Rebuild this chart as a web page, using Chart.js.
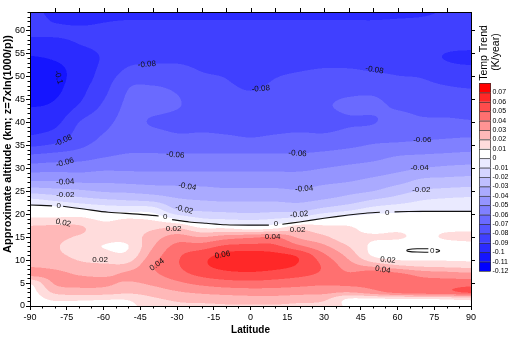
<!DOCTYPE html>
<html>
<head>
<meta charset="utf-8">
<script src="https://cdn.jsdelivr.net/npm/chart.js@4.4.1/dist/chart.umd.min.js"></script>
<style>
  html, body { margin: 0; padding: 0; background: #fff; }
  #wrap { width: 524px; height: 339px; }
</style>
</head>
<body>
<div id="wrap"><canvas id="chart" width="524" height="339"></canvas></div>
<script>
// Temperature trend (K/year) by latitude and altitude

const lats = [-90, -80, -70, -60, -50, -40, -30, -20, -10, 0, 10, 20, 30, 40, 50, 60, 70, 80, 90];
const alts = [0, 1.5, 3, 5, 7, 9, 11, 13, 15, 17, 19, 21, 23, 25, 27, 30, 33, 36, 40, 44, 48, 51, 54, 57, 60, 62, 64];

// one row per altitude (bottom to top), one value per latitude
const trend = [
  [0.005, 0.006, 0.006, 0.007, 0.008, 0.014, 0.018, 0.018, 0.019, 0.019, 0.019, 0.018, 0.017, 0.008, 0.006, 0.005, 0.006, 0.007, 0.007],
  [0.005, 0.012, 0.012, 0.011, 0.011, 0.018, 0.022, 0.024, 0.025, 0.026, 0.026, 0.024, 0.022, 0.009, 0.009, 0.009, 0.009, 0.011, 0.013],
  [0.006, 0.022, 0.025, 0.025, 0.022, 0.025, 0.029, 0.032, 0.034, 0.035, 0.035, 0.034, 0.033, 0.030, 0.036, 0.043, 0.046, 0.047, 0.052],
  [0.011, 0.031, 0.033, 0.032, 0.029, 0.032, 0.038, 0.043, 0.046, 0.047, 0.046, 0.044, 0.042, 0.043, 0.044, 0.046, 0.044, 0.044, 0.045],
  [0.034, 0.033, 0.029, 0.028, 0.032, 0.038, 0.046, 0.053, 0.057, 0.058, 0.056, 0.053, 0.048, 0.041, 0.046, 0.042, 0.036, 0.034, 0.032],
  [0.028, 0.026, 0.022, 0.021, 0.022, 0.039, 0.049, 0.058, 0.064, 0.066, 0.064, 0.059, 0.048, 0.034, 0.025, 0.019, 0.016, 0.015, 0.014],
  [0.026, 0.022, 0.018, 0.014, 0.013, 0.034, 0.048, 0.056, 0.063, 0.065, 0.063, 0.058, 0.042, 0.027, 0.009, 0.004, 0.005, 0.006, 0.006],
  [0.025, 0.021, 0.016, 0.0097, 0.0097, 0.029, 0.043, 0.045, 0.052, 0.053, 0.052, 0.042, 0.032, 0.020, 0.008, 0.005, 0.004, 0.006, 0.007],
  [0.024, 0.022, 0.019, 0.014, 0.014, 0.025, 0.034, 0.030, 0.035, 0.038, 0.040, 0.028, 0.022, 0.013, 0.011, 0.011, 0.008, 0.011, 0.012],
  [0.022, 0.023, 0.022, 0.013, 0.014, 0.018, 0.020, 0.010, 0.009, 0.005, 0.008, 0.017, 0.013, 0.011, 0.007, 0.008, 0.007, 0.008, 0.008],
  [0.011, 0.011, 0.012, 0.008, 0.010, 0.008, -0.001, -0.009, -0.011, -0.012, -0.010, -0.006, 0.001, 0.004, 0.005, 0.004, 0.004, 0.004, 0.004],
  [0.006, 0.005, 0.001, -0.003, -0.004, -0.005, -0.020, -0.022, -0.023, -0.024, -0.023, -0.023, -0.017, -0.012, -0.006, -0.003, -0.002, -0.001, -0.001],
  [-0.007, -0.011, -0.015, -0.018, -0.020, -0.022, -0.028, -0.030, -0.031, -0.031, -0.031, -0.032, -0.029, -0.025, -0.019, -0.015, -0.010, -0.008, -0.007],
  [-0.024, -0.026, -0.028, -0.031, -0.032, -0.034, -0.036, -0.037, -0.038, -0.038, -0.038, -0.039, -0.036, -0.033, -0.030, -0.024, -0.019, -0.017, -0.016],
  [-0.039, -0.039, -0.041, -0.041, -0.042, -0.043, -0.043, -0.043, -0.044, -0.044, -0.044, -0.044, -0.042, -0.040, -0.037, -0.033, -0.027, -0.026, -0.025],
  [-0.055, -0.054, -0.054, -0.052, -0.052, -0.052, -0.052, -0.052, -0.052, -0.052, -0.052, -0.052, -0.050, -0.048, -0.046, -0.043, -0.040, -0.038, -0.037],
  [-0.070, -0.068, -0.066, -0.062, -0.0595, -0.0595, -0.0595, -0.0595, -0.0595, -0.0595, -0.0595, -0.0595, -0.058, -0.056, -0.054, -0.051, -0.050, -0.049, -0.048],
  [-0.087, -0.083, -0.075, -0.068, -0.065, -0.064, -0.067, -0.067, -0.068, -0.069, -0.068, -0.067, -0.067, -0.065, -0.062, -0.061, -0.060, -0.059, -0.058],
  [-0.095, -0.093, -0.080, -0.073, -0.067, -0.071, -0.073, -0.073, -0.073, -0.073, -0.073, -0.073, -0.073, -0.071, -0.0705, -0.066, -0.068, -0.068, -0.069],
  [-0.101, -0.099, -0.090, -0.079, -0.068, -0.066, -0.069, -0.075, -0.076, -0.077, -0.076, -0.076, -0.0715, -0.068, -0.068, -0.072, -0.074, -0.075, -0.075],
  [-0.105, -0.103, -0.094, -0.084, -0.071, -0.070, -0.072, -0.077, -0.079, -0.081, -0.079, -0.078, -0.076, -0.075, -0.074, -0.077, -0.078, -0.080, -0.081],
  [-0.105, -0.103, -0.096, -0.087, -0.078, -0.077, -0.077, -0.080, -0.081, -0.083, -0.081, -0.080, -0.079, -0.079, -0.080, -0.081, -0.082, -0.086, -0.087],
  [-0.101, -0.099, -0.095, -0.089, -0.083, -0.082, -0.082, -0.083, -0.084, -0.084, -0.084, -0.084, -0.083, -0.083, -0.083, -0.084, -0.087, -0.0905, -0.092],
  [-0.093, -0.093, -0.090, -0.088, -0.086, -0.086, -0.086, -0.086, -0.086, -0.086, -0.086, -0.086, -0.086, -0.086, -0.086, -0.087, -0.087, -0.088, -0.088],
  [-0.088, -0.088, -0.0885, -0.088, -0.087, -0.087, -0.087, -0.087, -0.087, -0.087, -0.087, -0.087, -0.087, -0.087, -0.088, -0.088, -0.088, -0.087, -0.087],
  [-0.087, -0.0905, -0.092, -0.0905, -0.0895, -0.0895, -0.0895, -0.0895, -0.0895, -0.0895, -0.0895, -0.0895, -0.0895, -0.0895, -0.0897, -0.0893, -0.089, -0.088, -0.088],
  [-0.088, -0.092, -0.095, -0.094, -0.094, -0.094, -0.094, -0.094, -0.094, -0.094, -0.094, -0.094, -0.094, -0.094, -0.093, -0.092, -0.091, -0.0895, -0.089]
];

// contour levels and fill colours (from -0.12 up to 0.08)
const levelEdges = [-0.12, -0.11, -0.10, -0.09, -0.08, -0.07, -0.06, -0.05, -0.04, -0.03, -0.02, -0.01,
                    0, 0.01, 0.02, 0.03, 0.04, 0.05, 0.06, 0.07, 0.08];
const levelColors = ['#0000ff', '#1515ff', '#2b2bff', '#4040ff', '#5555ff', '#6a6aff', '#8080ff', '#9595ff',
                     '#aaaaff', '#bfbfff', '#d5d5ff', '#eaeaff', '#ffffff', '#ffdcdc', '#ffb8b8', '#ff9494',
                     '#ff7070', '#ff4c4c', '#ff2828', '#ff0000'];
const colorbarTicks = ['0.07', '0.06', '0.05', '0.04', '0.03', '0.02', '0.01', '0', '-0.01', '-0.02', '-0.03',
                       '-0.04', '-0.05', '-0.06', '-0.07', '-0.08', '-0.09', '-0.1', '-0.11', '-0.12'];

// zero contour (null = gap for a label)
const zeroLat = [-90, -81, null, -76.5, -68, -58, -46, -37.5, null, -32, -25, -18, -10, 0, 7.5, null,
                 13, 20, 30, 40, 47, 52.8, null, 58.8, 70, 80, 90];
const zeroAlt = [22.0, 21.8, null, 21.7, 21.1, 20.4, 20.0, 19.6, null, 18.8, 18.3, 18.0, 17.7, 17.6, 17.6, null,
                 17.8, 18.3, 19.1, 19.8, 20.2, 20.4, null, 20.5, 20.6, 20.6, 20.6];
const loopLat = [72.6, 68, 64.5, 63.8, 64.5, 68, 72.6, null, 75.6, 76.8, 77.2, 76.6, 75.6];
const loopAlt = [12.45, 12.45, 12.3, 12.1, 11.9, 11.75, 11.7, null, 12.35, 12.2, 12.0, 11.8, 11.7];

// contour labels
const labelText = ['-0.1', '-0.08', '-0.08', '-0.08', '-0.08', '-0.06', '-0.06', '-0.06', '-0.06',
                   '-0.04', '-0.04', '-0.04', '-0.04', '-0.02', '-0.02', '-0.02', '-0.02',
                   '0', '0', '0', '0', '0', '0.02', '0.02', '0.02', '0.02', '0.02', '0.04', '0.04', '0.04', '0.06'];
const labelLat = [-78.4, -42.3, 4.2, 50.6, -76.4, -75.7, -30.7, 19.2, 70.1,
                  -75.6, -25.8, 21.9, 69.0, -75.6, -27.1, 19.9, 69.7,
                  -78.3, -34.8, 10.4, 55.8, 74.2, -76.4, -61.4, -31.4, 19.2, 56.1, -38.2, 9.0, 54.0, -11.4];
const labelAlt = [49.8, 52.6, 47.3, 51.4, 36.0, 31.2, 32.9, 33.2, 36.1,
                  27.0, 26.0, 25.5, 30.0, 24.2, 21.0, 19.9, 25.3,
                  21.8, 19.4, 17.8, 20.3, 12.1, 18.1, 10.0, 16.7, 16.6, 10.0, 9.0, 15.0, 7.9, 11.1];
const labelAngle = [75, -5, -5, 10, -25, -15, 5, 3, 0,
                    -3, 10, -5, 0, 0, 15, -5, 0,
                    0, 0, 0, 0, 0, 12, 0, 0, 0, 5, -35, 0, 10, -10];

const FONT = '"Liberation Sans", Arial, sans-serif';
Chart.defaults.font.family = FONT;
Chart.defaults.color = '#000';

// smooth (Catmull-Rom) interpolation of the grid, for drawing only
function cr(p0, p1, p2, p3, t) {
    const t2 = t * t, t3 = t2 * t;
    return 0.5 * (2 * p1 + (-p0 + p2) * t + (2 * p0 - 5 * p1 + 4 * p2 - p3) * t2 + (-p0 + 3 * p1 - 3 * p2 + p3) * t3);
}

function valueAt(lat, alt) {
    let i = 0;
    while (i < lats.length - 2 && lat > lats[i + 1]) i++;
    let j = 0;
    while (j < alts.length - 2 && alt > alts[j + 1]) j++;
    let tx = (lat - lats[i]) / (lats[i + 1] - lats[i]);
    let ty = (alt - alts[j]) / (alts[j + 1] - alts[j]);
    tx = Math.max(0, Math.min(1, tx));
    ty = Math.max(0, Math.min(1, ty));
    const ci = k => Math.max(0, Math.min(lats.length - 1, k));
    const cj = k => Math.max(0, Math.min(alts.length - 1, k));
    const rows = [];
    for (let m = -1; m <= 2; m++) {
        const r = trend[cj(j + m)];
        rows.push(cr(r[ci(i - 1)], r[ci(i)], r[ci(i + 1)], r[ci(i + 2)], tx));
    }
    return cr(rows[0], rows[1], rows[2], rows[3], ty);
}

function binOf(v) {
    let k = 0;
    while (k < levelColors.length - 1 && v >= levelEdges[k + 1]) k++;
    return k;
}

const rgbColors = levelColors.map(c => [1, 3, 5].map(p => parseInt(c.substr(p, 2), 16)));

// filled contour field drawn through the chart scales
const fieldPlugin = {
    id: 'field',
    beforeDatasetsDraw(chart) {
        const area = chart.chartArea;
        const xs = chart.scales.x, ys = chart.scales.y;
        const S = 2;
        const W = Math.round((area.right - area.left) * S);
        const H = Math.round((area.bottom - area.top) * S);
        if (!chart.$field) {
            const off = document.createElement('canvas');
            off.width = W; off.height = H;
            const octx = off.getContext('2d');
            const img = octx.createImageData(W, H);
            const latCol = [];
            for (let i = 0; i < W; i++) latCol.push(xs.getValueForPixel(area.left + (i + 0.5) / S));
            for (let j = 0; j < H; j++) {
                const alt = ys.getValueForPixel(area.top + (j + 0.5) / S);
                for (let i = 0; i < W; i++) {
                    const c = rgbColors[binOf(valueAt(latCol[i], alt))];
                    const o = (j * W + i) * 4;
                    img.data[o] = c[0]; img.data[o + 1] = c[1]; img.data[o + 2] = c[2]; img.data[o + 3] = 255;
                }
            }
            octx.putImageData(img, 0, 0);
            chart.$field = off;
        }
        const ctx = chart.ctx;
        ctx.save();
        ctx.imageSmoothingEnabled = true;
        ctx.imageSmoothingQuality = 'high';
        ctx.drawImage(chart.$field, area.left, area.top, area.right - area.left, area.bottom - area.top);
        ctx.restore();
    },
    afterDatasetsDraw(chart) {
        const ctx = chart.ctx;
        const xs = chart.scales.x, ys = chart.scales.y;
        ctx.save();
        ctx.fillStyle = '#111';
        ctx.font = '8px ' + FONT;
        ctx.textAlign = 'center';
        ctx.textBaseline = 'middle';
        labelText.forEach((t, i) => {
            ctx.save();
            ctx.translate(xs.getPixelForValue(labelLat[i]), ys.getPixelForValue(labelAlt[i]));
            ctx.rotate(labelAngle[i] * Math.PI / 180);
            ctx.fillText(t, 0, 0);
            ctx.restore();
        });
        ctx.restore();
    },
    afterDraw(chart) {
        const ctx = chart.ctx;
        const area = chart.chartArea;
        const xs = chart.scales.x, ys = chart.scales.y;
        ctx.save();
        ctx.strokeStyle = '#000';
        ctx.lineWidth = 1;
        // frame
        ctx.strokeRect(Math.round(area.left) + 0.5, Math.round(area.top) + 0.5,
            Math.round(area.right - area.left), Math.round(area.bottom - area.top));
        ctx.beginPath();
        // minor ticks, bottom and left
        for (let v = -90; v <= 90; v += 5) {
            if (v % 15 === 0) continue;
            const x = Math.round(xs.getPixelForValue(v)) + 0.5;
            ctx.moveTo(x, area.bottom); ctx.lineTo(x, area.bottom + 2.5);
        }
        for (let v = 0; v <= 64; v += 1) {
            if (v % 5 === 0) continue;
            const y = Math.round(ys.getPixelForValue(v)) + 0.5;
            ctx.moveTo(area.left, y); ctx.lineTo(area.left - 2.5, y);
        }
        // top ticks
        for (let v = -80; v <= 80; v += 10) {
            const x = Math.round(xs.getPixelForValue(v)) + 0.5;
            ctx.moveTo(x, area.top); ctx.lineTo(x, area.top - 4);
        }
        // right ticks
        for (let v = 5; v <= 60; v += 5) {
            const y = Math.round(ys.getPixelForValue(v)) + 0.5;
            ctx.moveTo(area.right, y); ctx.lineTo(area.right + 4, y);
        }
        ctx.stroke();

        // y axis title
        ctx.fillStyle = '#000';
        ctx.font = 'bold 11px ' + FONT;
        ctx.textAlign = 'center';
        ctx.textBaseline = 'middle';
        ctx.save();
        ctx.translate(8, 144);
        ctx.rotate(-Math.PI / 2);
        ctx.fillText('Approximate altitude (km; z=7xln(1000/p))', 0, 0);
        ctx.restore();

        // colour bar
        const bx = 479, bw = 12, top = 83, bh = 9.4;
        const n = levelColors.length;
        ctx.font = '7px ' + FONT;
        ctx.textAlign = 'left';
        for (let i = 0; i < n; i++) {
            const y = top + i * bh;
            ctx.fillStyle = levelColors[n - 1 - i];
            ctx.fillRect(bx, y, bw, bh);
            ctx.strokeStyle = '#333';
            ctx.lineWidth = 0.7;
            ctx.strokeRect(bx + 0.5, y + 0.5, bw - 1, bh);
            ctx.fillStyle = '#000';
            ctx.fillText(colorbarTicks[i], bx + bw + 1.5, y + bh);
        }
        ctx.fillStyle = '#000';
        ctx.font = '10.5px ' + FONT;
        ctx.textAlign = 'center';
        ctx.save();
        ctx.translate(484, 53);
        ctx.rotate(-Math.PI / 2);
        ctx.fillText('Temp Trend', 0, 0);
        ctx.restore();
        ctx.save();
        ctx.translate(496, 52);
        ctx.rotate(-Math.PI / 2);
        ctx.fillText('(K/year)', 0, 0);
        ctx.restore();
        ctx.restore();
    }
};

function lineSets(xsArr, ysArr) {
    const sets = [];
    let cur = [];
    xsArr.forEach((x, i) => {
        if (x === null) { if (cur.length) sets.push(cur); cur = []; }
        else cur.push({ x: x, y: ysArr[i] });
    });
    if (cur.length) sets.push(cur);
    return sets.map(d => ({
        data: d,
        showLine: true,
        borderColor: '#111',
        borderWidth: 1.1,
        pointRadius: 0,
        tension: 0.3,
        fill: false
    }));
}

new Chart(document.getElementById('chart'), {
    type: 'scatter',
    data: {
        datasets: [...lineSets(zeroLat, zeroAlt), ...lineSets(loopLat, loopAlt)]
    },
    options: {
        responsive: false,
        animation: false,
        layout: { padding: { top: 12, right: 53, left: 0, bottom: 0 } },
        plugins: {
            legend: { display: false },
            tooltip: { enabled: false }
        },
        scales: {
            x: {
                type: 'linear',
                min: -90,
                max: 90,
                afterFit: s => { s.height = 33; },
                ticks: { stepSize: 15, font: { size: 9 }, color: '#000', padding: 2, maxRotation: 0 },
                grid: { drawOnChartArea: false, drawTicks: true, tickLength: 4, color: '#000' },
                border: { display: true, color: '#000' },
                title: { display: true, text: 'Latitude', font: { size: 10, weight: 'bold' }, color: '#000', padding: { top: 2, bottom: 3 } }
            },
            y: {
                type: 'linear',
                min: 0,
                max: 64,
                afterFit: s => { s.width = 30; },
                afterBuildTicks: s => { s.ticks = s.ticks.filter(t => t.value % 5 === 0 && t.value <= 60); },
                ticks: { stepSize: 5, font: { size: 9 }, color: '#000', padding: 1 },
                grid: { drawOnChartArea: false, drawTicks: true, tickLength: 4, color: '#000' },
                border: { display: true, color: '#000' },
                title: { display: false }
            }
        }
    },
    plugins: [fieldPlugin]
});
</script>
</body>
</html>
